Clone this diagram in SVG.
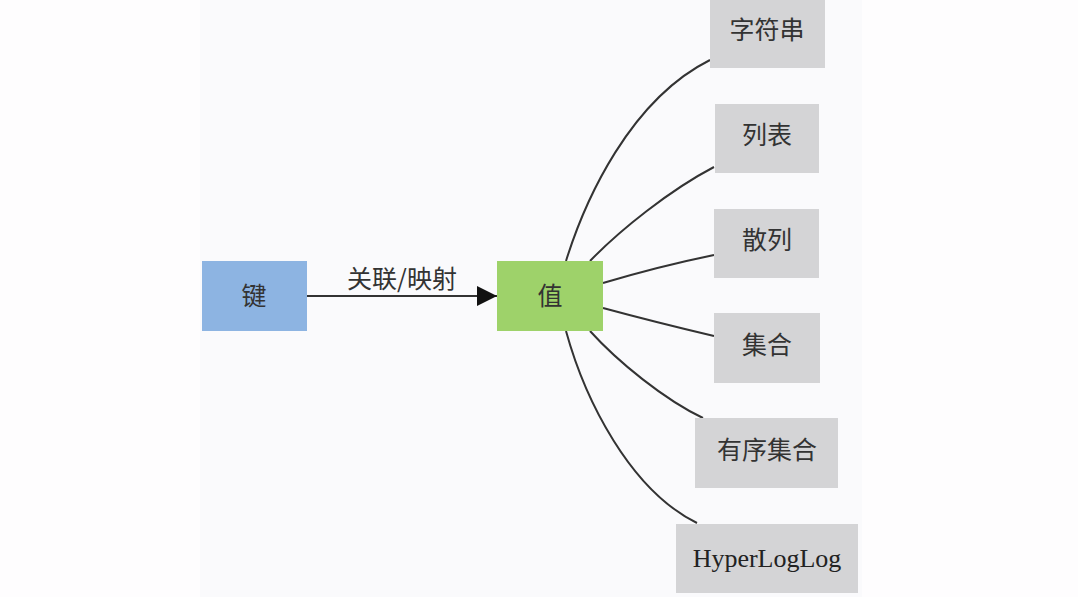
<svg xmlns="http://www.w3.org/2000/svg" width="1078" height="597" viewBox="0 0 1078 597">
<style>
.cjk{font-family:"Noto Sans CJK SC","Noto Sans",sans-serif;font-size:25px;fill:#333;text-anchor:middle}
.ser{font-family:"Liberation Serif",serif;font-size:26px;fill:#222;text-anchor:middle}
.gray{fill:#d4d4d6}
.edge{fill:none;stroke:#333;stroke-width:2}
</style>
<defs>
<marker id="arr" viewBox="0 0 10 10" refX="10" refY="5" markerWidth="20" markerHeight="20" markerUnits="userSpaceOnUse" orient="auto">
<path d="M0,0 L10,5 L0,10 Z" fill="#111"/>
</marker>
</defs>
<rect width="1078" height="597" fill="#fefdfe"/>
<rect x="200" y="0" width="662" height="597" fill="#fafafc"/>
<g id="connectors">
<path class="edge" d="M307,296 L497,296" marker-end="url(#arr)"/>
<text class="cjk" x="402" y="288">关联/映射</text>
<path class="edge" d="M566,261 C585,200 630,100 710,60"/>
<path class="edge" d="M590,261 C620,230 670,190 714,167"/>
<path class="edge" d="M603,283 C640,272 680,262 714,255"/>
<path class="edge" d="M603,308 C640,318 680,328 714,336"/>
<path class="edge" d="M590,331 C618,362 665,400 703,418"/>
<path class="edge" d="M566,331 C585,400 630,490 697,523"/>
</g>
<g id="key"><rect x="202" y="261" width="105" height="70" fill="#8db4e2"/><text class="cjk" x="254" y="305">键</text></g>
<g id="value"><rect x="497" y="261" width="106" height="70" fill="#9ed26a"/><text class="cjk" x="550" y="305">值</text></g>
<g id="string"><rect class="gray" x="710" y="-2" width="115" height="70"/><text class="cjk" x="767" y="39">字符串</text></g>
<g id="list"><rect class="gray" x="715" y="104" width="104" height="69"/><text class="cjk" x="767" y="144">列表</text></g>
<g id="hash"><rect class="gray" x="714" y="209" width="105" height="69"/><text class="cjk" x="767" y="249">散列</text></g>
<g id="set"><rect class="gray" x="714" y="313" width="106" height="70"/><text class="cjk" x="767" y="354">集合</text></g>
<g id="zset"><rect class="gray" x="695" y="418" width="143" height="70"/><text class="cjk" x="767" y="459">有序集合</text></g>
<g id="hll"><rect class="gray" x="676" y="524" width="182" height="69"/><text class="ser" x="767" y="567">HyperLogLog</text></g>
</svg>
